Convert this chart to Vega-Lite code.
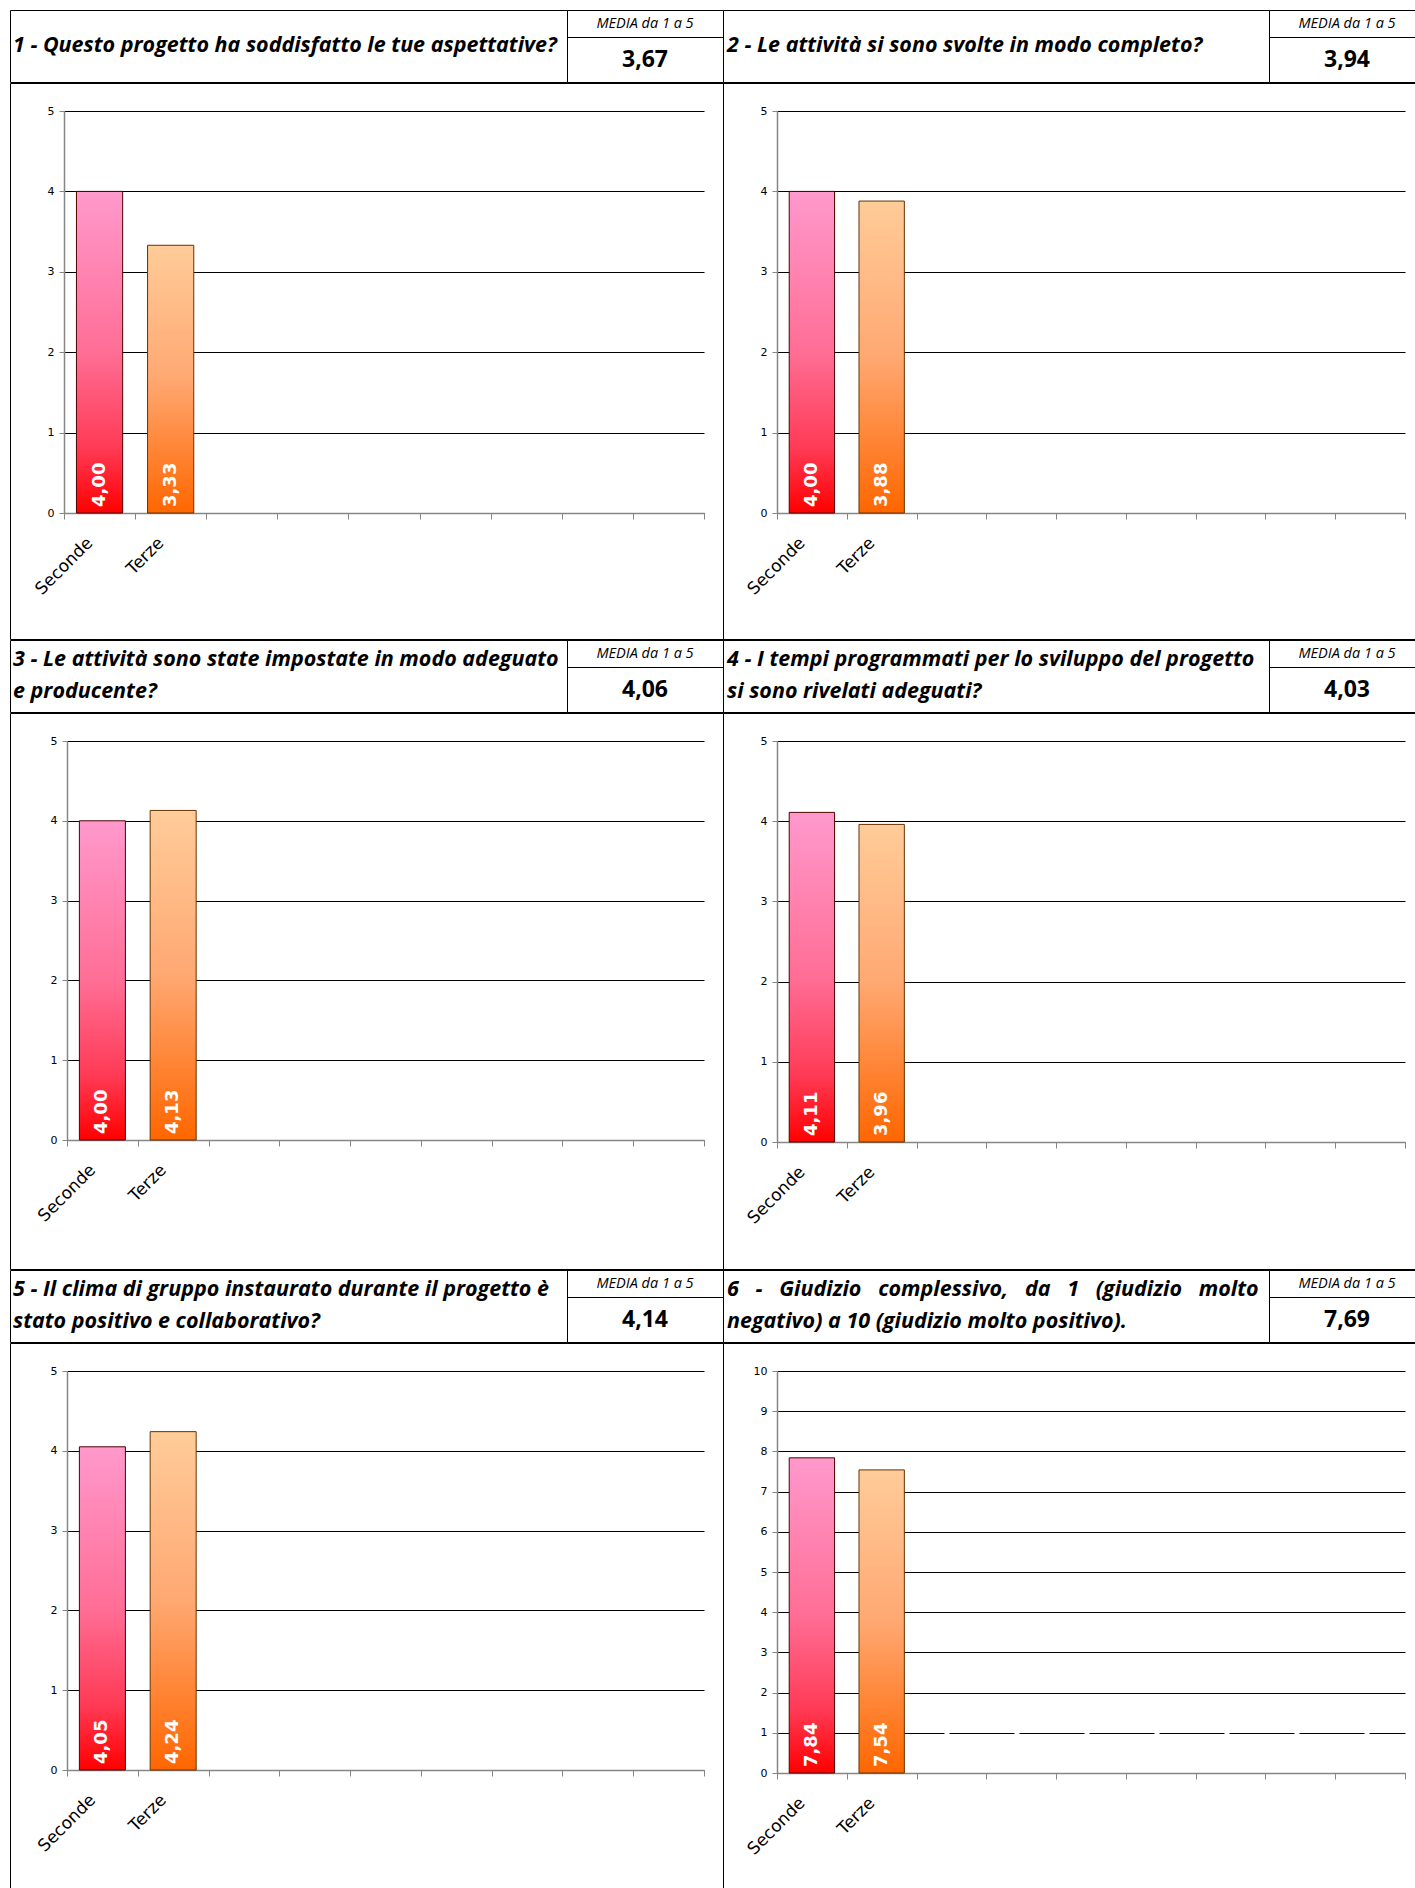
{
  "$schema": "https://vega.github.io/schema/vega-lite/v6.json",
  "padding": {"left": 3, "top": 9, "right": 0, "bottom": 0},
  "spacing": -3,
  "vconcat": [
    {"spacing": 0, "bounds": "flush", "hconcat": [
      {"width": 557, "height": 72,
       "data": {"values": [{"riga": 1, "testo": "1 - Questo progetto ha soddisfatto le tue aspettative?"}]},
       "mark": {"type": "text", "align": "left", "baseline": "middle", "font": "Open Sans", "fontSize": 21.5, "fontWeight": "bold", "fontStyle": "italic", "dx": 3},
       "encoding": {"x": {"datum": 0, "type": "quantitative", "scale": {"domain": [0, 1]}, "axis": null},
                    "y": {"field": "riga", "type": "ordinal", "scale": {"type": "point", "padding": 0.66}, "axis": null},
                    "text": {"field": "testo"}}},
      {"width": 156, "height": 72,
       "data": {"values": [{"etichetta": "MEDIA da 1 a 5", "media": 3.67}]},
       "encoding": {"x": {"datum": 0.5, "type": "quantitative", "scale": {"domain": [0, 1]},
                          "axis": {"orient": "top", "offset": -27, "domain": true, "domainColor": "#000", "domainWidth": 1, "ticks": false, "labels": false, "grid": false, "title": null}}},
       "layer": [
         {"mark": {"type": "text", "font": "Open Sans", "fontSize": 14.5, "fontStyle": "italic", "baseline": "middle", "dy": -22.5}, "encoding": {"text": {"field": "etichetta"}}},
         {"mark": {"type": "text", "font": "Open Sans", "fontSize": 23, "fontWeight": "bold", "baseline": "middle", "dy": 13.5}, "encoding": {"text": {"field": "media", "type": "quantitative", "format": ".2f"}}}
       ]},
      {"width": 546, "height": 72,
       "data": {"values": [{"riga": 1, "testo": "2 - Le attività si sono svolte in modo completo?"}]},
       "mark": {"type": "text", "align": "left", "baseline": "middle", "font": "Open Sans", "fontSize": 21.5, "fontWeight": "bold", "fontStyle": "italic", "dx": 4},
       "encoding": {"x": {"datum": 0, "type": "quantitative", "scale": {"domain": [0, 1]}, "axis": null},
                    "y": {"field": "riga", "type": "ordinal", "scale": {"type": "point", "padding": 0.66}, "axis": null},
                    "text": {"field": "testo"}}},
      {"width": 156, "height": 72,
       "data": {"values": [{"etichetta": "MEDIA da 1 a 5", "media": 3.94}]},
       "encoding": {"x": {"datum": 0.5, "type": "quantitative", "scale": {"domain": [0, 1]},
                          "axis": {"orient": "top", "offset": -27, "domain": true, "domainColor": "#000", "domainWidth": 1, "ticks": false, "labels": false, "grid": false, "title": null}}},
       "layer": [
         {"mark": {"type": "text", "font": "Open Sans", "fontSize": 14.5, "fontStyle": "italic", "baseline": "middle", "dy": -22.5}, "encoding": {"text": {"field": "etichetta"}}},
         {"mark": {"type": "text", "font": "Open Sans", "fontSize": 23, "fontWeight": "bold", "baseline": "middle", "dy": 13.5}, "encoding": {"text": {"field": "media", "type": "quantitative", "format": ".2f"}}}
       ]}
    ]},
    {"spacing": 0, "bounds": "flush", "hconcat": [
      {"width": 713, "height": 556,
       "data": {"values": [{"classe": "Seconde", "media": 4.00}, {"classe": "Terze", "media": 3.33}]},
       "encoding": {
         "x": {"field": "classe", "type": "nominal",
               "scale": {"domain": ["Seconde", "Terze", "c3", "c4", "c5", "c6", "c7", "c8", "c9"], "range": [54, 694], "paddingInner": 0, "paddingOuter": 0},
               "axis": {"title": null, "offset": -126, "labelAngle": -45, "labelAlign": "right", "labelBaseline": "middle", "labelFontSize": 17, "labelColor": "#000", "labelPadding": 21, "labelOffset": -10, "labelExpr": "datum.value == 'Seconde' || datum.value == 'Terze' ? datum.label : ''", "tickBand": "extent", "tickSize": 6, "tickColor": "#868686", "domainColor": "#868686", "domainWidth": 1.5, "grid": false}},
         "y": {"field": "media", "type": "quantitative",
               "scale": {"domain": [0, 5], "range": [430, 28], "nice": false},
               "axis": {"title": null, "offset": -54, "values": [0, 1, 2, 3, 4, 5], "grid": true, "gridColor": "#000", "gridWidth": 1, "tickSize": 5, "tickColor": "#868686", "domainColor": "#868686", "domainWidth": 1.5, "labelFontSize": 11, "labelColor": "#000", "labelPadding": 5}}
       },
       "layer": [
         {"mark": {"type": "bar", "width": {"band": 0.65}, "strokeWidth": 1},
          "encoding": {
            "fill": {"condition": {"test": "datum.classe === 'Seconde'", "value": {"gradient": "linear", "x1": 0, "y1": 0, "x2": 0, "y2": 1, "stops": [{"offset": 0, "color": "#ff99cc"}, {"offset": 0.5, "color": "#ff6e96"}, {"offset": 0.8, "color": "#ff3a55"}, {"offset": 1, "color": "#ff0000"}]}},
                     "value": {"gradient": "linear", "x1": 0, "y1": 0, "x2": 0, "y2": 1, "stops": [{"offset": 0, "color": "#ffcc99"}, {"offset": 0.5, "color": "#ffa872"}, {"offset": 1, "color": "#ff6600"}]}},
            "stroke": {"condition": {"test": "datum.classe === 'Seconde'", "value": "#4d0000"}, "value": "#663300"}}},
         {"mark": {"type": "text", "angle": 270, "align": "left", "baseline": "middle", "dx": 6, "font": "DejaVu Sans", "fontWeight": "bold", "fontSize": 18, "fill": "#ffffff"},
          "encoding": {"y": {"datum": 0, "type": "quantitative"}, "text": {"field": "media", "type": "quantitative", "format": ".2f"}}}
       ]},
      {"width": 702, "height": 556,
       "data": {"values": [{"classe": "Seconde", "media": 4.00}, {"classe": "Terze", "media": 3.88}]},
       "encoding": {
         "x": {"field": "classe", "type": "nominal",
               "scale": {"domain": ["Seconde", "Terze", "c3", "c4", "c5", "c6", "c7", "c8", "c9"], "range": [54, 682], "paddingInner": 0, "paddingOuter": 0},
               "axis": {"title": null, "offset": -126, "labelAngle": -45, "labelAlign": "right", "labelBaseline": "middle", "labelFontSize": 17, "labelColor": "#000", "labelPadding": 21, "labelOffset": -10, "labelExpr": "datum.value == 'Seconde' || datum.value == 'Terze' ? datum.label : ''", "tickBand": "extent", "tickSize": 6, "tickColor": "#868686", "domainColor": "#868686", "domainWidth": 1.5, "grid": false}},
         "y": {"field": "media", "type": "quantitative",
               "scale": {"domain": [0, 5], "range": [430, 28], "nice": false},
               "axis": {"title": null, "offset": -54, "values": [0, 1, 2, 3, 4, 5], "grid": true, "gridColor": "#000", "gridWidth": 1, "tickSize": 5, "tickColor": "#868686", "domainColor": "#868686", "domainWidth": 1.5, "labelFontSize": 11, "labelColor": "#000", "labelPadding": 5}}
       },
       "layer": [
         {"mark": {"type": "bar", "width": {"band": 0.65}, "strokeWidth": 1},
          "encoding": {
            "fill": {"condition": {"test": "datum.classe === 'Seconde'", "value": {"gradient": "linear", "x1": 0, "y1": 0, "x2": 0, "y2": 1, "stops": [{"offset": 0, "color": "#ff99cc"}, {"offset": 0.5, "color": "#ff6e96"}, {"offset": 0.8, "color": "#ff3a55"}, {"offset": 1, "color": "#ff0000"}]}},
                     "value": {"gradient": "linear", "x1": 0, "y1": 0, "x2": 0, "y2": 1, "stops": [{"offset": 0, "color": "#ffcc99"}, {"offset": 0.5, "color": "#ffa872"}, {"offset": 1, "color": "#ff6600"}]}},
            "stroke": {"condition": {"test": "datum.classe === 'Seconde'", "value": "#4d0000"}, "value": "#663300"}}},
         {"mark": {"type": "text", "angle": 270, "align": "left", "baseline": "middle", "dx": 6, "font": "DejaVu Sans", "fontWeight": "bold", "fontSize": 18, "fill": "#ffffff"},
          "encoding": {"y": {"datum": 0, "type": "quantitative"}, "text": {"field": "media", "type": "quantitative", "format": ".2f"}}}
       ]}
    ]},
    {"spacing": 0, "bounds": "flush", "hconcat": [
      {"width": 557, "height": 72,
       "data": {"values": [{"riga": 1, "testo": "3 - Le attività sono state impostate in modo adeguato"}, {"riga": 2, "testo": "e producente?"}]},
       "mark": {"type": "text", "align": "left", "baseline": "middle", "font": "Open Sans", "fontSize": 21.5, "fontWeight": "bold", "fontStyle": "italic", "dx": 3},
       "encoding": {"x": {"datum": 0, "type": "quantitative", "scale": {"domain": [0, 1]}, "axis": null},
                    "y": {"field": "riga", "type": "ordinal", "scale": {"type": "point", "padding": 0.66}, "axis": null},
                    "text": {"field": "testo"}}},
      {"width": 156, "height": 72,
       "data": {"values": [{"etichetta": "MEDIA da 1 a 5", "media": 4.06}]},
       "encoding": {"x": {"datum": 0.5, "type": "quantitative", "scale": {"domain": [0, 1]},
                          "axis": {"orient": "top", "offset": -27, "domain": true, "domainColor": "#000", "domainWidth": 1, "ticks": false, "labels": false, "grid": false, "title": null}}},
       "layer": [
         {"mark": {"type": "text", "font": "Open Sans", "fontSize": 14.5, "fontStyle": "italic", "baseline": "middle", "dy": -22.5}, "encoding": {"text": {"field": "etichetta"}}},
         {"mark": {"type": "text", "font": "Open Sans", "fontSize": 23, "fontWeight": "bold", "baseline": "middle", "dy": 13.5}, "encoding": {"text": {"field": "media", "type": "quantitative", "format": ".2f"}}}
       ]},
      {"width": 546, "height": 72,
       "data": {"values": [{"riga": 1, "testo": "4 - I tempi programmati per lo sviluppo del progetto"}, {"riga": 2, "testo": "si sono rivelati adeguati?"}]},
       "mark": {"type": "text", "align": "left", "baseline": "middle", "font": "Open Sans", "fontSize": 21.5, "fontWeight": "bold", "fontStyle": "italic", "dx": 4},
       "encoding": {"x": {"datum": 0, "type": "quantitative", "scale": {"domain": [0, 1]}, "axis": null},
                    "y": {"field": "riga", "type": "ordinal", "scale": {"type": "point", "padding": 0.66}, "axis": null},
                    "text": {"field": "testo"}}},
      {"width": 156, "height": 72,
       "data": {"values": [{"etichetta": "MEDIA da 1 a 5", "media": 4.03}]},
       "encoding": {"x": {"datum": 0.5, "type": "quantitative", "scale": {"domain": [0, 1]},
                          "axis": {"orient": "top", "offset": -27, "domain": true, "domainColor": "#000", "domainWidth": 1, "ticks": false, "labels": false, "grid": false, "title": null}}},
       "layer": [
         {"mark": {"type": "text", "font": "Open Sans", "fontSize": 14.5, "fontStyle": "italic", "baseline": "middle", "dy": -22.5}, "encoding": {"text": {"field": "etichetta"}}},
         {"mark": {"type": "text", "font": "Open Sans", "fontSize": 23, "fontWeight": "bold", "baseline": "middle", "dy": 13.5}, "encoding": {"text": {"field": "media", "type": "quantitative", "format": ".2f"}}}
       ]}
    ]},
    {"spacing": 0, "bounds": "flush", "hconcat": [
      {"width": 713, "height": 556,
       "data": {"values": [{"classe": "Seconde", "media": 4.00}, {"classe": "Terze", "media": 4.13}]},
       "encoding": {
         "x": {"field": "classe", "type": "nominal",
               "scale": {"domain": ["Seconde", "Terze", "c3", "c4", "c5", "c6", "c7", "c8", "c9"], "range": [57, 694], "paddingInner": 0, "paddingOuter": 0},
               "axis": {"title": null, "offset": -129, "labelAngle": -45, "labelAlign": "right", "labelBaseline": "middle", "labelFontSize": 17, "labelColor": "#000", "labelPadding": 21, "labelOffset": -10, "labelExpr": "datum.value == 'Seconde' || datum.value == 'Terze' ? datum.label : ''", "tickBand": "extent", "tickSize": 6, "tickColor": "#868686", "domainColor": "#868686", "domainWidth": 1.5, "grid": false}},
         "y": {"field": "media", "type": "quantitative",
               "scale": {"domain": [0, 5], "range": [427, 28], "nice": false},
               "axis": {"title": null, "offset": -57, "values": [0, 1, 2, 3, 4, 5], "grid": true, "gridColor": "#000", "gridWidth": 1, "tickSize": 5, "tickColor": "#868686", "domainColor": "#868686", "domainWidth": 1.5, "labelFontSize": 11, "labelColor": "#000", "labelPadding": 5}}
       },
       "layer": [
         {"mark": {"type": "bar", "width": {"band": 0.65}, "strokeWidth": 1},
          "encoding": {
            "fill": {"condition": {"test": "datum.classe === 'Seconde'", "value": {"gradient": "linear", "x1": 0, "y1": 0, "x2": 0, "y2": 1, "stops": [{"offset": 0, "color": "#ff99cc"}, {"offset": 0.5, "color": "#ff6e96"}, {"offset": 0.8, "color": "#ff3a55"}, {"offset": 1, "color": "#ff0000"}]}},
                     "value": {"gradient": "linear", "x1": 0, "y1": 0, "x2": 0, "y2": 1, "stops": [{"offset": 0, "color": "#ffcc99"}, {"offset": 0.5, "color": "#ffa872"}, {"offset": 1, "color": "#ff6600"}]}},
            "stroke": {"condition": {"test": "datum.classe === 'Seconde'", "value": "#4d0000"}, "value": "#663300"}}},
         {"mark": {"type": "text", "angle": 270, "align": "left", "baseline": "middle", "dx": 6, "font": "DejaVu Sans", "fontWeight": "bold", "fontSize": 18, "fill": "#ffffff"},
          "encoding": {"y": {"datum": 0, "type": "quantitative"}, "text": {"field": "media", "type": "quantitative", "format": ".2f"}}}
       ]},
      {"width": 702, "height": 556,
       "data": {"values": [{"classe": "Seconde", "media": 4.11}, {"classe": "Terze", "media": 3.96}]},
       "encoding": {
         "x": {"field": "classe", "type": "nominal",
               "scale": {"domain": ["Seconde", "Terze", "c3", "c4", "c5", "c6", "c7", "c8", "c9"], "range": [54, 682], "paddingInner": 0, "paddingOuter": 0},
               "axis": {"title": null, "offset": -127, "labelAngle": -45, "labelAlign": "right", "labelBaseline": "middle", "labelFontSize": 17, "labelColor": "#000", "labelPadding": 21, "labelOffset": -10, "labelExpr": "datum.value == 'Seconde' || datum.value == 'Terze' ? datum.label : ''", "tickBand": "extent", "tickSize": 6, "tickColor": "#868686", "domainColor": "#868686", "domainWidth": 1.5, "grid": false}},
         "y": {"field": "media", "type": "quantitative",
               "scale": {"domain": [0, 5], "range": [429, 28], "nice": false},
               "axis": {"title": null, "offset": -54, "values": [0, 1, 2, 3, 4, 5], "grid": true, "gridColor": "#000", "gridWidth": 1, "tickSize": 5, "tickColor": "#868686", "domainColor": "#868686", "domainWidth": 1.5, "labelFontSize": 11, "labelColor": "#000", "labelPadding": 5}}
       },
       "layer": [
         {"mark": {"type": "bar", "width": {"band": 0.65}, "strokeWidth": 1},
          "encoding": {
            "fill": {"condition": {"test": "datum.classe === 'Seconde'", "value": {"gradient": "linear", "x1": 0, "y1": 0, "x2": 0, "y2": 1, "stops": [{"offset": 0, "color": "#ff99cc"}, {"offset": 0.5, "color": "#ff6e96"}, {"offset": 0.8, "color": "#ff3a55"}, {"offset": 1, "color": "#ff0000"}]}},
                     "value": {"gradient": "linear", "x1": 0, "y1": 0, "x2": 0, "y2": 1, "stops": [{"offset": 0, "color": "#ffcc99"}, {"offset": 0.5, "color": "#ffa872"}, {"offset": 1, "color": "#ff6600"}]}},
            "stroke": {"condition": {"test": "datum.classe === 'Seconde'", "value": "#4d0000"}, "value": "#663300"}}},
         {"mark": {"type": "text", "angle": 270, "align": "left", "baseline": "middle", "dx": 6, "font": "DejaVu Sans", "fontWeight": "bold", "fontSize": 18, "fill": "#ffffff"},
          "encoding": {"y": {"datum": 0, "type": "quantitative"}, "text": {"field": "media", "type": "quantitative", "format": ".2f"}}}
       ]}
    ]},
    {"spacing": 0, "bounds": "flush", "hconcat": [
      {"width": 557, "height": 72,
       "data": {"values": [{"riga": 1, "testo": "5 - Il clima di gruppo instaurato durante il progetto è"}, {"riga": 2, "testo": "stato positivo e collaborativo?"}]},
       "mark": {"type": "text", "align": "left", "baseline": "middle", "font": "Open Sans", "fontSize": 21.5, "fontWeight": "bold", "fontStyle": "italic", "dx": 3},
       "encoding": {"x": {"datum": 0, "type": "quantitative", "scale": {"domain": [0, 1]}, "axis": null},
                    "y": {"field": "riga", "type": "ordinal", "scale": {"type": "point", "padding": 0.66}, "axis": null},
                    "text": {"field": "testo"}}},
      {"width": 156, "height": 72,
       "data": {"values": [{"etichetta": "MEDIA da 1 a 5", "media": 4.14}]},
       "encoding": {"x": {"datum": 0.5, "type": "quantitative", "scale": {"domain": [0, 1]},
                          "axis": {"orient": "top", "offset": -27, "domain": true, "domainColor": "#000", "domainWidth": 1, "ticks": false, "labels": false, "grid": false, "title": null}}},
       "layer": [
         {"mark": {"type": "text", "font": "Open Sans", "fontSize": 14.5, "fontStyle": "italic", "baseline": "middle", "dy": -22.5}, "encoding": {"text": {"field": "etichetta"}}},
         {"mark": {"type": "text", "font": "Open Sans", "fontSize": 23, "fontWeight": "bold", "baseline": "middle", "dy": 13.5}, "encoding": {"text": {"field": "media", "type": "quantitative", "format": ".2f"}}}
       ]},
      {"width": 546, "height": 72,
       "data": {"values": [{"riga": 1, "testo": "6\u00a0\u00a0\u00a0-\u00a0\u00a0\u00a0Giudizio\u00a0\u00a0\u00a0complessivo,\u00a0\u00a0\u00a0da\u00a0\u00a0\u00a01\u00a0\u00a0\u00a0(giudizio\u00a0\u00a0\u00a0molto"}, {"riga": 2, "testo": "negativo) a 10 (giudizio molto positivo)."}]},
       "mark": {"type": "text", "align": "left", "baseline": "middle", "font": "Open Sans", "fontSize": 21.5, "fontWeight": "bold", "fontStyle": "italic", "dx": 4},
       "encoding": {"x": {"datum": 0, "type": "quantitative", "scale": {"domain": [0, 1]}, "axis": null},
                    "y": {"field": "riga", "type": "ordinal", "scale": {"type": "point", "padding": 0.66}, "axis": null},
                    "text": {"field": "testo"}}},
      {"width": 156, "height": 72,
       "data": {"values": [{"etichetta": "MEDIA da 1 a 5", "media": 7.69}]},
       "encoding": {"x": {"datum": 0.5, "type": "quantitative", "scale": {"domain": [0, 1]},
                          "axis": {"orient": "top", "offset": -27, "domain": true, "domainColor": "#000", "domainWidth": 1, "ticks": false, "labels": false, "grid": false, "title": null}}},
       "layer": [
         {"mark": {"type": "text", "font": "Open Sans", "fontSize": 14.5, "fontStyle": "italic", "baseline": "middle", "dy": -22.5}, "encoding": {"text": {"field": "etichetta"}}},
         {"mark": {"type": "text", "font": "Open Sans", "fontSize": 23, "fontWeight": "bold", "baseline": "middle", "dy": 13.5}, "encoding": {"text": {"field": "media", "type": "quantitative", "format": ".2f"}}}
       ]}
    ]},
    {"spacing": 0, "bounds": "flush", "hconcat": [
      {"width": 713, "height": 556,
       "data": {"values": [{"classe": "Seconde", "media": 4.05}, {"classe": "Terze", "media": 4.24}]},
       "encoding": {
         "x": {"field": "classe", "type": "nominal",
               "scale": {"domain": ["Seconde", "Terze", "c3", "c4", "c5", "c6", "c7", "c8", "c9"], "range": [57, 694], "paddingInner": 0, "paddingOuter": 0},
               "axis": {"title": null, "offset": -129, "labelAngle": -45, "labelAlign": "right", "labelBaseline": "middle", "labelFontSize": 17, "labelColor": "#000", "labelPadding": 21, "labelOffset": -10, "labelExpr": "datum.value == 'Seconde' || datum.value == 'Terze' ? datum.label : ''", "tickBand": "extent", "tickSize": 6, "tickColor": "#868686", "domainColor": "#868686", "domainWidth": 1.5, "grid": false}},
         "y": {"field": "media", "type": "quantitative",
               "scale": {"domain": [0, 5], "range": [427, 28], "nice": false},
               "axis": {"title": null, "offset": -57, "values": [0, 1, 2, 3, 4, 5], "grid": true, "gridColor": "#000", "gridWidth": 1, "tickSize": 5, "tickColor": "#868686", "domainColor": "#868686", "domainWidth": 1.5, "labelFontSize": 11, "labelColor": "#000", "labelPadding": 5}}
       },
       "layer": [
         {"mark": {"type": "bar", "width": {"band": 0.65}, "strokeWidth": 1},
          "encoding": {
            "fill": {"condition": {"test": "datum.classe === 'Seconde'", "value": {"gradient": "linear", "x1": 0, "y1": 0, "x2": 0, "y2": 1, "stops": [{"offset": 0, "color": "#ff99cc"}, {"offset": 0.5, "color": "#ff6e96"}, {"offset": 0.8, "color": "#ff3a55"}, {"offset": 1, "color": "#ff0000"}]}},
                     "value": {"gradient": "linear", "x1": 0, "y1": 0, "x2": 0, "y2": 1, "stops": [{"offset": 0, "color": "#ffcc99"}, {"offset": 0.5, "color": "#ffa872"}, {"offset": 1, "color": "#ff6600"}]}},
            "stroke": {"condition": {"test": "datum.classe === 'Seconde'", "value": "#4d0000"}, "value": "#663300"}}},
         {"mark": {"type": "text", "angle": 270, "align": "left", "baseline": "middle", "dx": 6, "font": "DejaVu Sans", "fontWeight": "bold", "fontSize": 18, "fill": "#ffffff"},
          "encoding": {"y": {"datum": 0, "type": "quantitative"}, "text": {"field": "media", "type": "quantitative", "format": ".2f"}}}
       ]},
      {"width": 702, "height": 556,
       "data": {"values": [{"classe": "Seconde", "media": 7.84}, {"classe": "Terze", "media": 7.54}]},
       "encoding": {
         "x": {"field": "classe", "type": "nominal",
               "scale": {"domain": ["Seconde", "Terze", "c3", "c4", "c5", "c6", "c7", "c8", "c9"], "range": [54, 682], "paddingInner": 0, "paddingOuter": 0},
               "axis": {"title": null, "offset": -126, "labelAngle": -45, "labelAlign": "right", "labelBaseline": "middle", "labelFontSize": 17, "labelColor": "#000", "labelPadding": 21, "labelOffset": -10, "labelExpr": "datum.value == 'Seconde' || datum.value == 'Terze' ? datum.label : ''", "tickBand": "extent", "tickSize": 6, "tickColor": "#868686", "domainColor": "#868686", "domainWidth": 1.5, "grid": false}},
         "y": {"field": "media", "type": "quantitative",
               "scale": {"domain": [0, 10], "range": [430, 28], "nice": false},
               "axis": {"title": null, "offset": -54, "values": [0, 1, 2, 3, 4, 5, 6, 7, 8, 9, 10], "grid": true, "gridColor": "#000", "gridWidth": 1, "gridDash": {"condition": {"test": "datum.value === 1", "value": [65, 5]}, "value": []}, "gridDashOffset": 38, "tickSize": 5, "tickColor": "#868686", "domainColor": "#868686", "domainWidth": 1.5, "labelFontSize": 11, "labelColor": "#000", "labelPadding": 5}}
       },
       "layer": [
         {"mark": {"type": "bar", "width": {"band": 0.65}, "strokeWidth": 1},
          "encoding": {
            "fill": {"condition": {"test": "datum.classe === 'Seconde'", "value": {"gradient": "linear", "x1": 0, "y1": 0, "x2": 0, "y2": 1, "stops": [{"offset": 0, "color": "#ff99cc"}, {"offset": 0.5, "color": "#ff6e96"}, {"offset": 0.8, "color": "#ff3a55"}, {"offset": 1, "color": "#ff0000"}]}},
                     "value": {"gradient": "linear", "x1": 0, "y1": 0, "x2": 0, "y2": 1, "stops": [{"offset": 0, "color": "#ffcc99"}, {"offset": 0.5, "color": "#ffa872"}, {"offset": 1, "color": "#ff6600"}]}},
            "stroke": {"condition": {"test": "datum.classe === 'Seconde'", "value": "#4d0000"}, "value": "#663300"}}},
         {"mark": {"type": "text", "angle": 270, "align": "left", "baseline": "middle", "dx": 6, "font": "DejaVu Sans", "fontWeight": "bold", "fontSize": 18, "fill": "#ffffff"},
          "encoding": {"y": {"datum": 0, "type": "quantitative"}, "text": {"field": "media", "type": "quantitative", "format": ".2f"}}}
       ]}
    ]}
  ],
  "config": {
    "view": {"stroke": "#000000", "strokeWidth": 1},
    "axis": {"minExtent": 0},
    "font": "DejaVu Sans",
    "locale": {"number": {"decimal": ",", "thousands": ".", "grouping": [3], "currency": ["€", ""]}}
  }
}
